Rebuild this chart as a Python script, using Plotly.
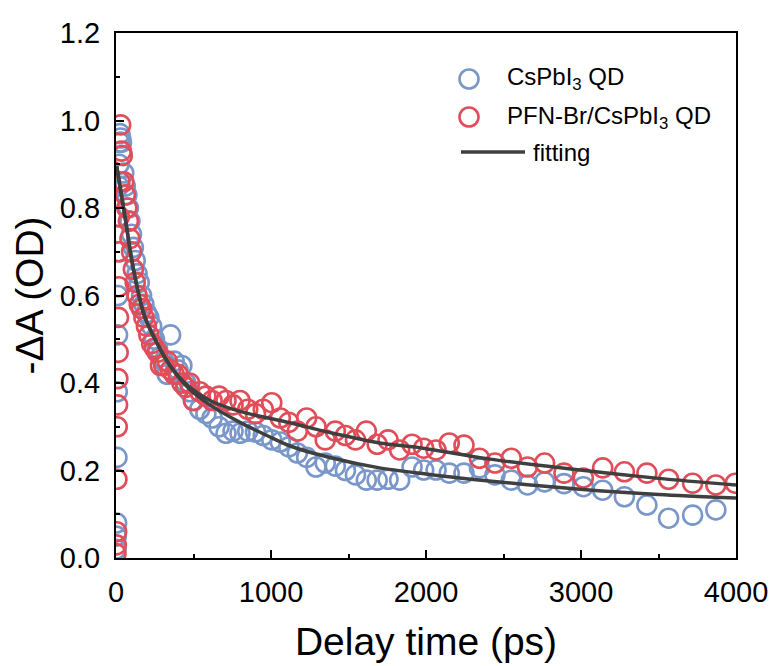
import plotly.graph_objects as go

# ---------------- data ----------------
t_pts = [0, 2, 4, 6, 8, 10, 12, 14, 16, 18, 20, 22, 25, 30, 35,
         40, 50, 60, 70, 80, 90, 100, 112, 124, 136, 150, 165, 180, 196, 212,
         230, 248, 267, 287, 308, 330, 352, 375, 400, 425, 450, 475,
         500, 540, 580, 620, 665, 710, 755, 800, 850, 900, 950, 1005, 1060,
         1115, 1170, 1230, 1290, 1350, 1415, 1480, 1545, 1615, 1685, 1755,
         1830, 1910, 1985, 2065, 2150, 2245, 2345, 2445, 2550, 2655, 2765,
         2890, 3015, 3140, 3280, 3425, 3565, 3720, 3870, 3995]

red_vals = [0.01, 0.03, 0.06, 0.18, 0.30, 0.35, 0.41, 0.47, 0.55, 0.62, 0.70, 0.78, 0.86, 0.99, 0.93,
            0.92, 0.86, 0.83, 0.80, 0.77, 0.73, 0.70, 0.66, 0.63, 0.60, 0.58, 0.57, 0.55, 0.53, 0.51,
            0.49, 0.48, 0.47, 0.44, 0.44, 0.45, 0.43, 0.42, 0.42, 0.40, 0.39, 0.40,
            0.36, 0.38, 0.37, 0.36, 0.37, 0.36, 0.35, 0.36, 0.34, 0.33, 0.34, 0.355, 0.32,
            0.31, 0.29, 0.32, 0.30, 0.27, 0.29, 0.28, 0.27, 0.29, 0.26, 0.27,
            0.247, 0.26, 0.251, 0.247, 0.263, 0.258, 0.228, 0.217, 0.228, 0.208, 0.217,
            0.194, 0.183, 0.206, 0.197, 0.194, 0.18, 0.171, 0.167, 0.171]

blue_vals = [0.02, 0.05, 0.08, 0.23, 0.38, 0.51, 0.60, 0.70, 0.78, 0.85, 0.90, 0.95, 0.97, 0.96, 0.95,
             0.92, 0.88, 0.85, 0.83, 0.80, 0.77, 0.74, 0.71, 0.68, 0.65, 0.63, 0.60, 0.58, 0.56, 0.55,
             0.53, 0.50, 0.48, 0.46, 0.45, 0.42, 0.51, 0.45, 0.43, 0.44, 0.40, 0.38,
             0.36, 0.34, 0.33, 0.32, 0.30, 0.285, 0.29, 0.285, 0.29, 0.288, 0.28, 0.27, 0.265,
             0.254, 0.24, 0.23, 0.208, 0.217, 0.21, 0.20, 0.19, 0.178, 0.178, 0.18,
             0.178, 0.208, 0.201, 0.201, 0.194, 0.194, 0.206, 0.19, 0.178, 0.167, 0.174,
             0.17, 0.163, 0.155, 0.14, 0.121, 0.091, 0.098, 0.11, None]

fit_red_t = [5, 58, 110, 187, 348, 477, 606, 800, 1123, 1400, 1700, 1980, 2413, 2994, 3500, 4000]
fit_red_v = [0.895, 0.78, 0.665, 0.55, 0.44, 0.39, 0.36, 0.335, 0.309, 0.285, 0.263, 0.251, 0.226, 0.201, 0.182, 0.167]

fit_blue_t = [5, 58, 110, 187, 348, 477, 606, 800, 974, 1123, 1400, 1700, 2000, 2290, 2994, 3500, 4000]
fit_blue_v = [0.895, 0.78, 0.665, 0.55, 0.44, 0.385, 0.35, 0.31, 0.28, 0.256, 0.228, 0.206, 0.192, 0.180, 0.157, 0.145, 0.137]

x_ticks = [0, 1000, 2000, 3000, 4000]
y_ticks = [0.0, 0.2, 0.4, 0.6, 0.8, 1.0, 1.2]

legend_labels = ["CsPbI<sub>3</sub> QD", "PFN-Br/CsPbI<sub>3</sub> QD", "fitting"]

BLUE = "#7A97CA"
RED = "#E14E59"
FITC = "#3F3F3F"
FONT = "Liberation Sans, Arial, sans-serif"

fig = go.Figure()
fig.add_trace(go.Scatter(x=t_pts, y=blue_vals, mode="markers", name=legend_labels[0],
                         marker=dict(symbol="circle-open", size=19, color=BLUE, line=dict(width=2.6)),
                         showlegend=False))
fig.add_trace(go.Scatter(x=t_pts, y=red_vals, mode="markers", name=legend_labels[1],
                         marker=dict(symbol="circle-open", size=19, color=RED, line=dict(width=2.6)),
                         showlegend=False))
fig.add_trace(go.Scatter(x=fit_blue_t, y=fit_blue_v, mode="lines", name="fit1",
                         line=dict(color=FITC, width=3.5, shape="spline", smoothing=0.8),
                         showlegend=False))
fig.add_trace(go.Scatter(x=fit_red_t, y=fit_red_v, mode="lines", name="fit2",
                         line=dict(color=FITC, width=3.5, shape="spline", smoothing=0.8),
                         showlegend=False))

# ---------------- layout geometry (page has an 8px body margin) ----------------
W, H = 777, 666
OFF = 8
PL, PR, PT, PB = 116, 736, 33, 558          # plot area in window pixels
L, T = PL - OFF, PT - OFF
R, B = W - (PR - OFF), H - (PB - OFF)
pw, ph = PR - PL, PB - PT

def px(x):
    return (x - PL) / pw

def py(y):
    return (PB - y) / ph

shapes = []
annotations = []
leg_rows = [79, 117, 152]
for i, (c, yy) in enumerate(zip([BLUE, RED], leg_rows[:2])):
    shapes.append(dict(type="circle", xref="paper", yref="paper",
                       xsizemode="pixel", ysizemode="pixel",
                       xanchor=px(469), yanchor=py(yy), x0=-9.5, x1=9.5, y0=-9.5, y1=9.5,
                       line=dict(color=c, width=2.6), fillcolor="rgba(0,0,0,0)"))
    annotations.append(dict(x=px(505), y=py(yy), xref="paper", yref="paper",
                            text=legend_labels[i], showarrow=False, xanchor="left", yanchor="middle",
                            font=dict(family=FONT, size=24, color="black")))
shapes.append(dict(type="line", xref="paper", yref="paper",
                   x0=px(461), x1=px(525), y0=py(leg_rows[2]), y1=py(leg_rows[2]),
                   line=dict(color=FITC, width=3.5)))
annotations.append(dict(x=px(531), y=py(leg_rows[2]), xref="paper", yref="paper",
                        text=legend_labels[2], showarrow=False, xanchor="left", yanchor="middle",
                        font=dict(family=FONT, size=24, color="black")))

axis_common = dict(showline=True, linecolor="black", linewidth=2, mirror=True,
                   ticks="inside", ticklen=8, tickwidth=2, tickcolor="black",
                   showgrid=False, zeroline=False,
                   tickfont=dict(family=FONT, size=29, color="black"))

fig.update_layout(
    width=W, height=H,
    margin=dict(l=L, r=R, t=T, b=B, autoexpand=False),
    paper_bgcolor="white", plot_bgcolor="white",
    shapes=shapes, annotations=annotations,
    xaxis=dict(range=[0, 4000], tickvals=x_ticks, ticktext=[str(v) for v in x_ticks],
               minor=dict(ticks="inside", ticklen=4, tickwidth=2, tickcolor="black", dtick=500, tick0=0),
               title=dict(text="Delay time (ps)", font=dict(family=FONT, size=39, color="black"), standoff=21),
               ticklabelstandoff=7,
               **axis_common),
    yaxis=dict(range=[0, 1.2], tickvals=y_ticks, ticktext=[f"{v:.1f}" for v in y_ticks],
               minor=dict(ticks="inside", ticklen=4, tickwidth=2, tickcolor="black", dtick=0.1, tick0=0),
               title=dict(text="-ΔA (OD)", font=dict(family=FONT, size=39, color="black"), standoff=10),
               ticklabelstandoff=8,
               **axis_common),
)

fig.write_html("out.html")
